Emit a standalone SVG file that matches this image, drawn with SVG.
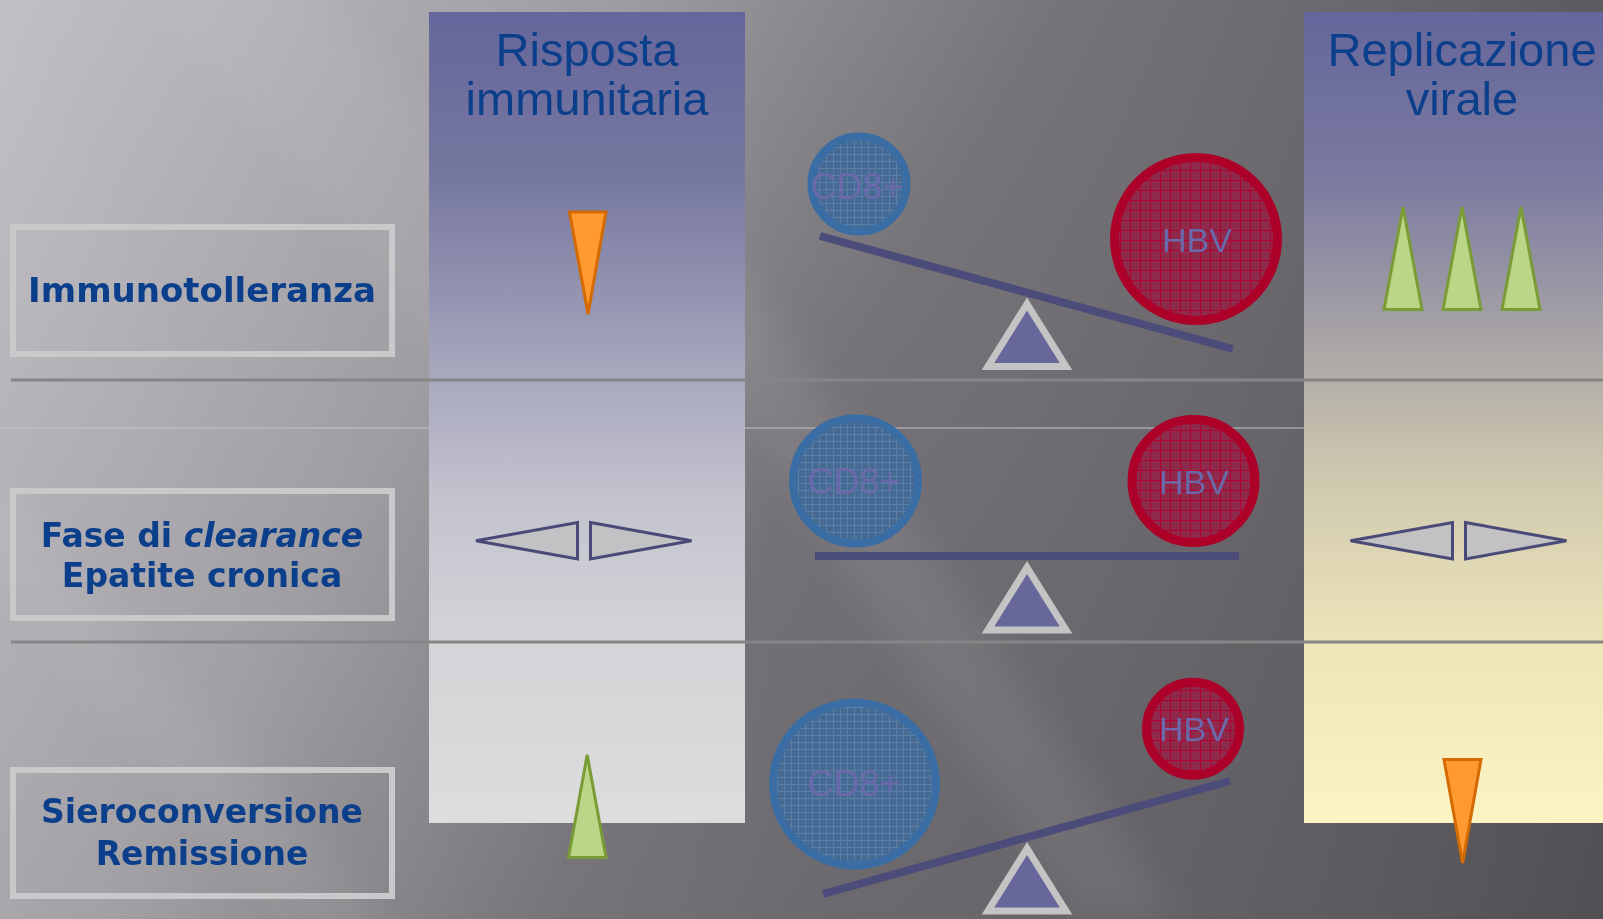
<svg xmlns="http://www.w3.org/2000/svg" width="1603" height="919" viewBox="0 0 1603 919">
<defs>
<style>
.lbl{fill:none;stroke:#c9c9c9;stroke-width:6}
.lt{font-family:"DejaVu Sans",Verdana,sans-serif;font-weight:bold;fill:#0b3f8b;text-anchor:middle}
.hd{font-family:"Liberation Sans",Arial,sans-serif;font-size:47px;fill:#0b3f8b;text-anchor:middle}
.ct{font-family:"Liberation Sans",Arial,sans-serif;fill:#6a6aaa;text-anchor:middle}
.beam{stroke:#4c4c7a;stroke-width:8;fill:none}
.ful{fill:#67679c;stroke:#c4c4c4;stroke-width:7}
.cd{fill:url(#cdp);stroke:#3a6da3;stroke-width:8}
.hbv{fill:url(#hbvp);stroke:#ad0029;stroke-width:9}
.dbl{fill:#c2c2c4;stroke:#4a4a78;stroke-width:3}
.org{fill:#ff9a33;stroke:#d46a00;stroke-width:3}
.grn{fill:#bcd687;stroke:#7a9c36;stroke-width:3}
.sep{stroke:#858585;stroke-width:3}
</style>
<linearGradient id="bg" x1="0" y1="0" x2="1603" y2="919" gradientUnits="userSpaceOnUse">
<stop offset="0" stop-color="#bdbbc1"/>
<stop offset="0.3" stop-color="#9b999e"/>
<stop offset="0.5" stop-color="#747277"/>
<stop offset="0.75" stop-color="#646267"/>
<stop offset="1" stop-color="#58565a"/>
</linearGradient>
<linearGradient id="bgh" x1="0" y1="0" x2="1603" y2="0" gradientUnits="userSpaceOnUse">
<stop offset="0" stop-color="#ffffff" stop-opacity="0.08"/>
<stop offset="0.5" stop-color="#ffffff" stop-opacity="0"/>
<stop offset="1" stop-color="#000000" stop-opacity="0.08"/>
</linearGradient>
<linearGradient id="lc" x1="0" y1="12" x2="0" y2="823" gradientUnits="userSpaceOnUse">
<stop offset="0" stop-color="#65669b"/>
<stop offset="0.2" stop-color="#76779f"/>
<stop offset="0.45" stop-color="#a8a8be"/>
<stop offset="0.6" stop-color="#c3c3cf"/>
<stop offset="0.78" stop-color="#d4d4d8"/>
<stop offset="1" stop-color="#dddddd"/>
</linearGradient>
<linearGradient id="rc" x1="0" y1="12" x2="0" y2="823" gradientUnits="userSpaceOnUse">
<stop offset="0" stop-color="#65669b"/>
<stop offset="0.2" stop-color="#7a79a0"/>
<stop offset="0.45" stop-color="#b3aea8"/>
<stop offset="0.58" stop-color="#d0c9b0"/>
<stop offset="0.78" stop-color="#ede5b8"/>
<stop offset="1" stop-color="#fdf4c3"/>
</linearGradient>
<filter id="soft" x="-20%" y="-20%" width="140%" height="140%">
<feGaussianBlur stdDeviation="18"/>
</filter>
<pattern id="hbvp" width="10" height="10" patternUnits="userSpaceOnUse">
<rect width="10" height="10" fill="#8e2a4c"/>
<path d="M0 0.5H10M0.5 0V10" stroke="#b3002f" stroke-width="1"/>
</pattern>
<pattern id="cdp" width="7" height="7" patternUnits="userSpaceOnUse">
<rect width="7" height="7" fill="#476a93"/>
<path d="M0 0.5H7M0.5 0V7" stroke="#5a7fa8" stroke-width="1"/>
</pattern>
<path id="fulcrum" d="M1027 304 L1066 366.5 L988 366.5 Z"/>
</defs>

<g id="background">
<rect width="1603" height="919" fill="url(#bg)"/>
<rect width="1603" height="919" fill="url(#bgh)"/>
<g filter="url(#soft)" fill="#ffffff">
<polygon points="560,150 660,150 1180,919 1080,919" opacity="0.07"/>
<polygon points="-100,480 0,480 420,960 320,960" opacity="0.05"/>
<polygon points="120,-40 300,-40 760,520 580,520" opacity="0.05"/>
</g>
<line x1="0" y1="428" x2="1603" y2="428" stroke="#c4c3c7" stroke-width="1"/>
</g>

<g id="col-risposta">
<rect x="429" y="12" width="316" height="811" fill="url(#lc)"/>
<text class="hd" x="587" y="66">Risposta</text>
<text class="hd" x="587" y="115">immunitaria</text>
</g>

<g id="col-replicazione">
<rect x="1304" y="12" width="320" height="811" fill="url(#rc)"/>
<text class="hd" x="1462" y="66">Replicazione</text>
<text class="hd" x="1462" y="115">virale</text>
</g>

<g id="connectors">
<line class="sep" x1="11" y1="380" x2="1603" y2="380"/>
<line class="sep" x1="11" y1="642" x2="1603" y2="642"/>
</g>

<g id="label-immunotolleranza">
<rect class="lbl" x="13" y="227" width="379" height="127"/>
<text class="lt" x="202" y="302" font-size="34">Immunotolleranza</text>
</g>

<g id="label-clearance">
<rect class="lbl" x="13" y="491" width="379" height="127"/>
<text class="lt" x="202" y="547" font-size="33">Fase di <tspan font-style="italic">clearance</tspan></text>
<text class="lt" x="202" y="587" font-size="33">Epatite cronica</text>
</g>

<g id="label-sieroconversione">
<rect class="lbl" x="13" y="770" width="379" height="126"/>
<text class="lt" x="202" y="823" font-size="33">Sieroconversione</text>
<text class="lt" x="202" y="865" font-size="33">Remissione</text>
</g>

<g id="seesaw-1">
<line class="beam" x1="820" y1="236" x2="1233" y2="349"/>
<use href="#fulcrum" class="ful"/>
<circle class="cd" cx="859" cy="184" r="47.5"/>
<text class="ct" x="857" y="199" font-size="36">CD8+</text>
<circle class="hbv" cx="1196" cy="239" r="81.5"/>
<text class="ct" x="1197" y="252" font-size="34">HBV</text>
</g>

<g id="seesaw-2">
<line class="beam" x1="815" y1="556" x2="1239" y2="556"/>
<use href="#fulcrum" class="ful" transform="translate(0,263.5)"/>
<circle class="cd" cx="855.5" cy="481" r="62.5"/>
<text class="ct" x="854" y="494" font-size="36">CD8+</text>
<circle class="hbv" cx="1193.5" cy="481" r="61.5"/>
<text class="ct" x="1194" y="494" font-size="34">HBV</text>
</g>

<g id="seesaw-3">
<line class="beam" x1="823" y1="894" x2="1230" y2="781"/>
<use href="#fulcrum" class="ful" transform="translate(0,544.5)"/>
<circle class="cd" cx="854.5" cy="784" r="81.5"/>
<text class="ct" x="854" y="796" font-size="36">CD8+</text>
<circle class="hbv" cx="1193" cy="728.7" r="46.5"/>
<text class="ct" x="1194" y="741" font-size="34">HBV</text>
</g>

<g id="ind-risposta-1">
<path class="org" d="M569.5 212 L606 212 L588 314 Z"/>
</g>
<g id="ind-risposta-2">
<path class="dbl" d="M476 540.7 L577.5 522.5 L577.5 559 Z"/>
<path class="dbl" d="M590.5 522.5 L691.5 540.7 L590.5 559 Z"/>
</g>
<g id="ind-risposta-3">
<path class="grn" d="M587.2 755 L606 857.5 L568.5 857.5 Z"/>
</g>

<g id="ind-replicazione-1">
<path class="grn" d="M1403 207 L1422 309.5 L1384 309.5 Z"/>
<path class="grn" d="M1462 207 L1481 309.5 L1443 309.5 Z"/>
<path class="grn" d="M1521 207 L1540 309.5 L1502 309.5 Z"/>
</g>
<g id="ind-replicazione-2">
<path class="dbl" d="M1350.5 540.7 L1452.5 522.5 L1452.5 559 Z"/>
<path class="dbl" d="M1465.5 522.5 L1566.5 540.7 L1465.5 559 Z"/>
</g>
<g id="ind-replicazione-3">
<path class="org" d="M1444 759.5 L1481 759.5 L1462.6 863 Z"/>
</g>
</svg>
